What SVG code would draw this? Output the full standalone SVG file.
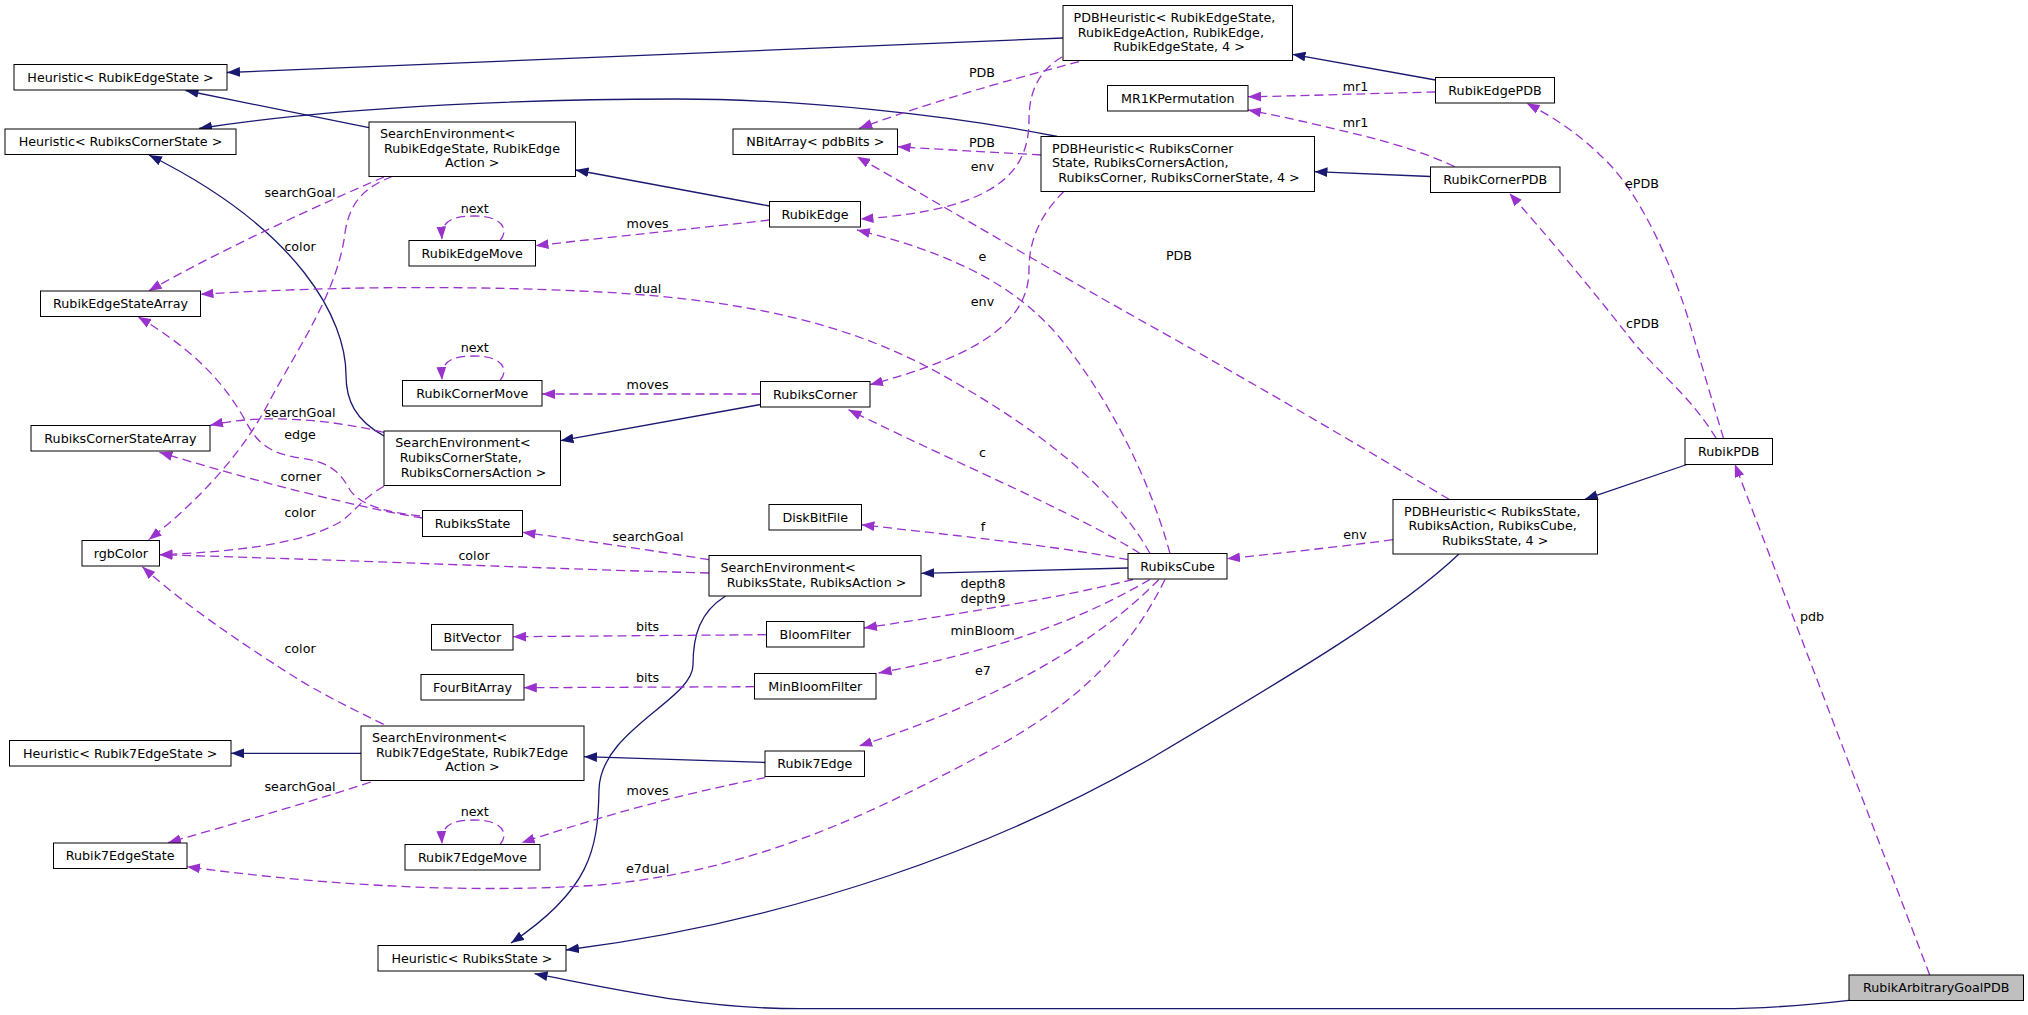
<svg xmlns="http://www.w3.org/2000/svg" width="2028" height="1015" viewBox="0 0 2028 1015">
<defs>
<style>
.n rect{fill:#fff;stroke:#000;stroke-width:1}
.n.hl rect{fill:#bfbfbf}
text{font-family:"DejaVu Sans","Liberation Sans",sans-serif;font-size:12.7px;fill:#000}
.c{text-anchor:middle}
.inh{fill:none;stroke:#191970;stroke-width:1.3;marker-end:url(#ai)}
.use{fill:none;stroke:#9a32cd;stroke-width:1.3;stroke-dasharray:9,5;marker-end:url(#au)}
</style>
<marker id="ai" markerUnits="userSpaceOnUse" markerWidth="13" markerHeight="10" viewBox="0 0 12 9" refX="12" refY="4.5" orient="auto"><path d="M0,0 L12,4.5 L0,9 z" style="fill:#191970;stroke:none"/></marker>
<marker id="au" markerUnits="userSpaceOnUse" markerWidth="13" markerHeight="10" viewBox="0 0 12 9" refX="12" refY="4.5" orient="auto"><path d="M0,0 L12,4.5 L0,9 z" style="fill:#9a32cd;stroke:none"/></marker>
</defs>
<rect width="2028" height="1015" fill="#fff"/>
<g id="edges">
<path class="inh" d="M1063,38 L227,72.5"/>
<path class="inh" d="M369,127.7 L185.5,90.5"/>
<path class="inh" d="M1057.5,136.5 C950,115 800,99 676,99 C550,99 350,105 199,128.5"/>
<path class="inh" d="M384,436 C355,420 346,400 346,375 C346,320 300,230 149,155"/>
<path class="inh" d="M769.5,206 L575.5,170"/>
<path class="inh" d="M1435.5,80 L1292.5,54.3"/>
<path class="inh" d="M1430.5,176.5 L1314.5,171.7"/>
<path class="inh" d="M760.5,404.5 L560.5,440.7"/>
<path class="inh" d="M1128,568 L921.3,573.3"/>
<path class="inh" d="M765,762.5 L584,756.7"/>
<path class="inh" d="M361,753.3 L231,753.3"/>
<path class="inh" d="M725.6,596 C700,612 693,635 693,665 C693,700 600,730 599,790 C598,850 590,890 511,943"/>
<path class="inh" d="M1459,554 C1400,610 1300,670 1150,759 C1000,845 800,920 566,950"/>
<path class="inh" d="M1687,464.5 L1584.8,499.3"/>
<path class="inh" d="M1849,1000.3 C1800,1006 1760,1008.7 1720,1008.7 L800,1008.7 C700,1008.7 620,990 534.6,973.7"/>

<path class="use" d="M1079,61.7 C1040,72 950,95 859.2,128.3"/>
<path class="use" d="M1062,57 C1040,70 1029,90 1029,120 C1029,170 1000,210 860.5,219"/>
<path class="use" d="M1041,155 C990,152 950,150 897.6,146.7"/>
<path class="use" d="M1064,191.3 C1040,215 1029,240 1029,270 C1029,330 960,360 870,384.7"/>
<path class="use" d="M1435.5,92 C1350,94 1300,96 1248,96.7"/>
<path class="use" d="M1454.6,166.7 C1420,150 1380,140 1352,133 C1310,123 1280,116 1248,110"/>
<path class="use" d="M769.5,220 C700,228 620,236 535.5,245.7"/>
<path class="use" d="M500,240.5 C508,232 506,216 474,216 C450,216 441,222 442,239.5"/>
<path class="use" d="M384,177 C330,200 220,250 148.7,291"/>
<path class="use" d="M392.3,176.5 C362,188 349,205 345,233 C338,290 300,345 270,400 C245,450 200,500 148.7,539.7"/>
<path class="use" d="M1150,553.5 C1120,500 1060,440 935,371 C850,325 750,300 600,292 C450,284 300,288 200.5,294.3"/>
<path class="use" d="M1140,553.5 C1080,515 960,465 848.5,409.7"/>
<path class="use" d="M1128,559.7 C1050,545 950,535 861.4,524.7"/>
<path class="use" d="M1133,579.5 C1050,600 950,615 864,628"/>
<path class="use" d="M1150,579.5 C1080,620 1000,650 878.6,673"/>
<path class="use" d="M1158.9,579.5 C1100,640 1000,700 859.2,746"/>
<path class="use" d="M1165,579.5 C1130,650 1080,700 1000,745 C880,810 760,870 600,885 C450,895 300,882 187,866.7"/>
<path class="use" d="M709,573 C550,569 350,560 159.5,554.7"/>
<path class="use" d="M709,559.7 C650,550 580,540 522.5,532.3"/>
<path class="use" d="M384,432.3 C340,422 300,418 260,419 C240,420 225,422 210,425.3"/>
<path class="use" d="M384,486.3 C360,500 355,512 340,522 C300,545 230,552 159.5,554.7"/>
<path class="use" d="M422.5,518 C360,508 250,480 159.5,452.3"/>
<path class="use" d="M420,516 C385,512 360,505 350,490 C340,472 330,462 300,458 C270,453 258,445 245,420 C220,375 185,345 138,316.7"/>
<path class="use" d="M383.7,724.3 C350,708 320,693 293,676 C260,655 190,610 142.3,566.7"/>
<path class="use" d="M370.8,782 C300,805 230,825 168,842.7"/>
<path class="use" d="M765.2,777.7 C700,790 620,810 521.7,842.7"/>
<path class="use" d="M500,844.5 C508,836 506,820 474,820 C450,820 441,826 442,844"/>
<path class="use" d="M500,380.5 C508,372 506,356 474,356 C450,356 441,362 442,380"/>
<path class="use" d="M760.5,394 L542,394"/>
<path class="use" d="M766.5,634.7 L513,636.7"/>
<path class="use" d="M754.5,686.7 L523.8,687.7"/>
<path class="use" d="M1393,539.7 C1330,548 1280,553 1227,558.7"/>
<path class="use" d="M1723.6,438.5 C1712,400 1700,360 1693,335 C1675,270 1640,190 1600,155 C1580,135 1555,118 1526.6,103.3"/>
<path class="use" d="M1716.3,438.5 C1690,395 1655,370 1630,338 C1600,300 1560,250 1509.4,193.3"/>
<path class="use" d="M1929.7,975 L1734.8,464"/>
<path class="use" d="M1449,499.3 C1400,470 1300,410 1176,340 C1050,270 950,210 857,156.7"/>
<path class="use" d="M1170,553.5 C1150,480 1110,400 1060,338 C1020,290 960,255 857,230"/>
<g id="edge-labels">
<text class="c" x="982" y="76.8">PDB</text>
<text class="c" x="982" y="147.2">PDB</text>
<text class="c" x="982.5" y="171.2">env</text>
<text class="c" x="982.5" y="261.2">e</text>
<text class="c" x="982.5" y="305.5">env</text>
<text class="c" x="1179" y="260.2">PDB</text>
<text class="c" x="1355.5" y="91.2">mr1</text>
<text class="c" x="1355.5" y="127.2">mr1</text>
<text class="c" x="1642" y="187.5">ePDB</text>
<text class="c" x="1642.6" y="328.2">cPDB</text>
<text class="c" x="300" y="197.2">searchGoal</text>
<text class="c" x="300" y="251.2">color</text>
<text class="c" x="474.7" y="212.5">next</text>
<text class="c" x="647.6" y="227.5">moves</text>
<text class="c" x="647.6" y="292.5">dual</text>
<text class="c" x="474.7" y="352.2">next</text>
<text class="c" x="647.6" y="389.2">moves</text>
<text class="c" x="300" y="417.2">searchGoal</text>
<text class="c" x="300" y="439.2">edge</text>
<text class="c" x="301" y="481.2">corner</text>
<text class="c" x="300" y="517.2">color</text>
<text class="c" x="648" y="541.2">searchGoal</text>
<text class="c" x="474" y="560.2">color</text>
<text class="c" x="647.6" y="630.8">bits</text>
<text class="c" x="300" y="652.8">color</text>
<text class="c" x="982.5" y="456.5">c</text>
<text class="c" x="983" y="531.2">f</text>
<text class="c" x="983" y="587.8">depth8</text>
<text class="c" x="983" y="602.5">depth9</text>
<text class="c" x="982.5" y="635.2">minBloom</text>
<text class="c" x="983" y="675.2">e7</text>
<text class="c" x="1355" y="539.2">env</text>
<text class="c" x="1812" y="621.2">pdb</text>
<text class="c" x="647.6" y="681.5">bits</text>
<text class="c" x="300" y="790.8">searchGoal</text>
<text class="c" x="474.7" y="816.2">next</text>
<text class="c" x="647.6" y="795.2">moves</text>
<text class="c" x="647.6" y="872.8">e7dual</text>
</g>
</g>

<g id="n1" class="n"><rect x="14" y="64.5" width="213" height="25.5"/><text class="c" x="120.5" y="81.7">Heuristic&lt; RubikEdgeState &gt;</text></g>
<g id="n2" class="n"><rect x="5" y="129" width="231" height="25.5"/><text class="c" x="120.5" y="146.2">Heuristic&lt; RubiksCornerState &gt;</text></g>
<g id="n3" class="n"><rect x="369" y="122" width="206.5" height="54.5"/><text x="380" y="137.8">SearchEnvironment&lt;</text><text x="384" y="152.8">RubikEdgeState, RubikEdge</text><text class="c" x="472.3" y="167.2">Action &gt;</text></g>
<g id="n4" class="n"><rect x="409" y="240.5" width="126.5" height="25.5"/><text class="c" x="472.2" y="257.7">RubikEdgeMove</text></g>
<g id="n5" class="n"><rect x="40.5" y="291" width="160" height="25.5"/><text class="c" x="120.5" y="308.2">RubikEdgeStateArray</text></g>
<g id="n6" class="n"><rect x="1063" y="5.5" width="229.5" height="55"/><text x="1073.5" y="21.8">PDBHeuristic&lt; RubikEdgeState,</text><text x="1077.8" y="36.8">RubikEdgeAction, RubikEdge,</text><text class="c" x="1179" y="51.2">RubikEdgeState, 4 &gt;</text></g>
<g id="n7" class="n"><rect x="1107.5" y="85.5" width="140.5" height="25.5"/><text class="c" x="1177.8" y="102.7">MR1KPermutation</text></g>
<g id="n8" class="n"><rect x="733" y="129" width="164.5" height="25.5"/><text class="c" x="815.3" y="146.2">NBitArray&lt; pdbBits &gt;</text></g>
<g id="n9" class="n"><rect x="1041" y="136.5" width="273.5" height="55"/><text x="1052" y="152.8">PDBHeuristic&lt; RubiksCorner</text><text x="1052" y="167.2">State, RubiksCornersAction,</text><text class="c" x="1179" y="181.8">RubiksCorner, RubiksCornerState, 4 &gt;</text></g>
<g id="n10" class="n"><rect x="769.5" y="201.5" width="91" height="25.5"/><text class="c" x="815" y="218.7">RubikEdge</text></g>
<g id="n11" class="n"><rect x="1435.5" y="77.5" width="119" height="25.5"/><text class="c" x="1495" y="94.7">RubikEdgePDB</text></g>
<g id="n12" class="n"><rect x="1430.5" y="167" width="129.5" height="25.5"/><text class="c" x="1495.3" y="184.2">RubikCornerPDB</text></g>
<g id="n13" class="n"><rect x="402.5" y="380.5" width="139.5" height="25.5"/><text class="c" x="472.3" y="397.7">RubikCornerMove</text></g>
<g id="n14" class="n"><rect x="31" y="425.5" width="179" height="25.5"/><text class="c" x="120.5" y="442.7">RubiksCornerStateArray</text></g>
<g id="n15" class="n"><rect x="384" y="431" width="176.5" height="54.5"/><text x="395.3" y="447.2">SearchEnvironment&lt;</text><text x="399.7" y="461.8">RubiksCornerState,</text><text class="c" x="473.6" y="476.8">RubiksCornersAction &gt;</text></g>
<g id="n16" class="n"><rect x="422.5" y="510.5" width="100" height="26"/><text class="c" x="472.5" y="528">RubiksState</text></g>
<g id="n17" class="n"><rect x="82" y="540.5" width="77.5" height="25.5"/><text class="c" x="120.8" y="557.7">rgbColor</text></g>
<g id="n18" class="n"><rect x="431.5" y="624.5" width="81.5" height="25.5"/><text class="c" x="472.3" y="641.7">BitVector</text></g>
<g id="n19" class="n"><rect x="760.5" y="381.5" width="109.5" height="25.5"/><text class="c" x="815.3" y="398.7">RubiksCorner</text></g>
<g id="n20" class="n"><rect x="769" y="504.5" width="92.5" height="25.5"/><text class="c" x="815.3" y="521.7">DiskBitFile</text></g>
<g id="n21" class="n"><rect x="709" y="555.5" width="212" height="40.5"/><text x="720.4" y="572.2">SearchEnvironment&lt;</text><text class="c" x="816.5" y="586.8">RubiksState, RubiksAction &gt;</text></g>
<g id="n22" class="n"><rect x="1128" y="553.5" width="99" height="25.5"/><text class="c" x="1177.5" y="570.7">RubiksCube</text></g>
<g id="n23" class="n"><rect x="766.5" y="621.5" width="97.5" height="25.5"/><text class="c" x="815.3" y="638.7">BloomFilter</text></g>
<g id="n24" class="n"><rect x="754.5" y="673.5" width="121.5" height="25.5"/><text class="c" x="815.3" y="690.7">MinBloomFilter</text></g>
<g id="n25" class="n"><rect x="421" y="674.5" width="103" height="25.5"/><text class="c" x="472.5" y="691.7">FourBitArray</text></g>
<g id="n26" class="n"><rect x="1685" y="438.5" width="87.5" height="26"/><text class="c" x="1728.7" y="456">RubikPDB</text></g>
<g id="n27" class="n"><rect x="1393" y="499.5" width="204.5" height="54.5"/><text x="1404" y="515.5">PDBHeuristic&lt; RubiksState,</text><text x="1408.5" y="529.8">RubiksAction, RubiksCube,</text><text class="c" x="1495.2" y="544.8">RubiksState, 4 &gt;</text></g>
<g id="n28" class="n"><rect x="361" y="726" width="223" height="54.5"/><text x="372" y="742.2">SearchEnvironment&lt;</text><text x="376" y="757.2">Rubik7EdgeState, Rubik7Edge</text><text class="c" x="472.5" y="771.2">Action &gt;</text></g>
<g id="n29" class="n"><rect x="9.5" y="740.5" width="221.5" height="25.5"/><text class="c" x="120.2" y="757.7">Heuristic&lt; Rubik7EdgeState &gt;</text></g>
<g id="n30" class="n"><rect x="53.5" y="843" width="133.5" height="25.5"/><text class="c" x="120.2" y="860.2">Rubik7EdgeState</text></g>
<g id="n31" class="n"><rect x="405" y="844.5" width="135" height="25.5"/><text class="c" x="472.5" y="861.7">Rubik7EdgeMove</text></g>
<g id="n32" class="n"><rect x="378" y="945.5" width="188" height="25.5"/><text class="c" x="472" y="962.7">Heuristic&lt; RubiksState &gt;</text></g>
<g id="n33" class="n"><rect x="765" y="751" width="99.5" height="25.5"/><text class="c" x="814.8" y="768.2">Rubik7Edge</text></g>
<g id="n34" class="n hl"><rect x="1849" y="975" width="174.5" height="25.5"/><text class="c" x="1936.2" y="992.2">RubikArbitraryGoalPDB</text></g>
</svg>
